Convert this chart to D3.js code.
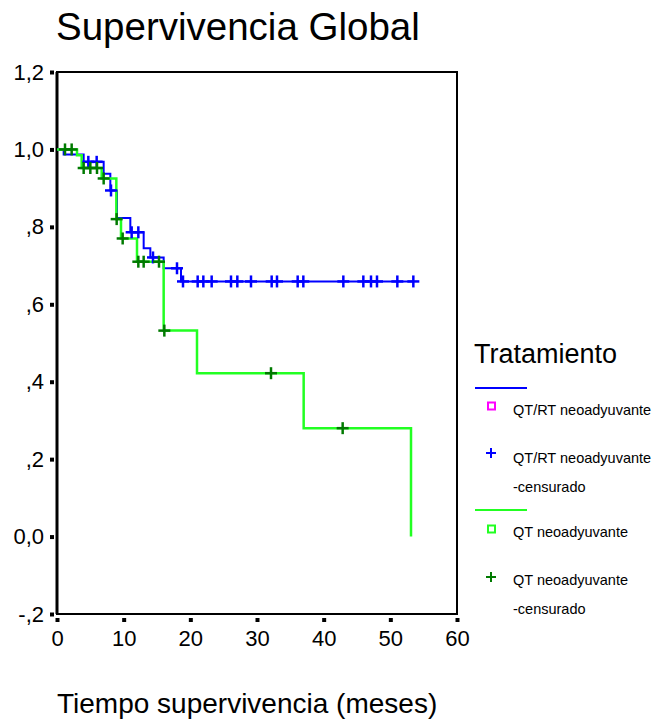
<!DOCTYPE html>
<html>
<head>
<meta charset="utf-8">
<script src="https://cdn.jsdelivr.net/npm/d3@7"></script>
<style>
  body { margin: 0; background: #fff; }
  text { font-family: "Liberation Sans", Arial, sans-serif; fill: #000; }
</style>
</head>
<body>
<svg id="chart" width="655" height="723"></svg>
<script>
// Kaplan-Meier steps
var qtrtTimes = [0, 1, 4, 7, 8, 9, 11, 13, 14, 16, 18.6, 53.5];
var qtrtSurv = [1, 0.987, 0.968, 0.937, 0.894, 0.823, 0.786, 0.745, 0.721, 0.693, 0.659, 0.659];
var qtrtCensored = [4.7, 5.95, 8.1, 11.2, 12.2, 14.4, 18.0, 18.9, 21.1, 21.95, 23.2, 26.1, 27.05,
  29.1, 32.2, 33.0, 36.1, 36.95, 42.95, 45.95, 47.1, 48.0, 51.05, 53.45];

var qtTimes = [0, 3, 3.7, 6.7, 8.9, 9.6, 12, 16, 21, 37, 53.1];
var qtSurv = [1, 0.985, 0.952, 0.925, 0.82, 0.77, 0.71, 0.532, 0.422, 0.28, 0];
var qtCensored = [1.2, 2.2, 4.0, 5.0, 6.0, 7.0, 8.95, 9.85, 12.2, 13.0, 15.3, 16.1, 32.1, 42.85];

var xTicks = [0, 10, 20, 30, 40, 50, 60];
var yTicks = [-0.2, 0, 0.2, 0.4, 0.6, 0.8, 1.0, 1.2];
var yTickLabels = ["-,2", "0,0", ",2", ",4", ",6", ",8", "1,0", "1,2"];

var legendTitle = "Tratamiento";
var legendItems = ["QT/RT neoadyuvante", "QT/RT neoadyuvante|-censurado", "QT neoadyuvante", "QT neoadyuvante|-censurado"];

var svg = d3.select("#chart");

var x = d3.scaleLinear().domain([0, 60]).range([57, 457]);
var y = d3.scaleLinear().domain([-0.2, 1.2]).range([614, 72]);

// title
svg.append("text").attr("x", 56).attr("y", 40)
  .style("font-size", "38.5px").text("Supervivencia Global");

// frame
svg.append("rect")
  .attr("x", x(0)).attr("y", y(1.2))
  .attr("width", x(60) - x(0)).attr("height", y(-0.2) - y(1.2))
  .attr("fill", "none").attr("stroke", "#000").attr("stroke-width", 2);
svg.append("line")
  .attr("x1", x(0)).attr("x2", x(0)).attr("y1", y(1.2)).attr("y2", y(-0.2))
  .attr("stroke", "#000").attr("stroke-width", 3);

// axes with square tick marks
var xAxis = d3.axisBottom(x).tickValues(xTicks).tickSize(4).tickPadding(8);
var gx = svg.append("g").attr("transform", "translate(0," + (y(-0.2) + 4) + ")").call(xAxis);
gx.select(".domain").remove();
gx.selectAll(".tick line").attr("stroke", "#000").attr("stroke-width", 4);
gx.selectAll(".tick text").style("font-size", "22px").attr("font-family", null);

var yAxis = d3.axisLeft(y).tickValues(yTicks).tickSize(4).tickPadding(6)
  .tickFormat(function(d, i) { return yTickLabels[i]; });
var gy = svg.append("g").attr("transform", "translate(" + (x(0) - 3) + ",0)").call(yAxis);
gy.select(".domain").remove();
gy.selectAll(".tick line").attr("stroke", "#000").attr("stroke-width", 4);
gy.selectAll(".tick text").style("font-size", "22px").attr("font-family", null);

// x axis title
svg.append("text").attr("x", 57).attr("y", 713)
  .style("font-size", "28px").text("Tiempo supervivencia (meses)");

function stepValue(times, surv, t) {
  var v = surv[0];
  for (var i = 0; i < times.length; i++) {
    if (times[i] <= t) v = surv[i];
  }
  return v;
}

var line = d3.line()
  .x(function(d) { return x(d[0]); })
  .y(function(d) { return y(d[1]); })
  .curve(d3.curveStepAfter);

var blue = "#0000ff", lime = "#22ff22", dark = "#007a00";

svg.append("path").datum(d3.zip(qtrtTimes, qtrtSurv))
  .attr("d", line).attr("fill", "none").attr("stroke", blue).attr("stroke-width", 2);
svg.append("path").datum(d3.zip(qtTimes, qtSurv))
  .attr("d", line).attr("fill", "none").attr("stroke", lime).attr("stroke-width", 2.5);

function drawCensors(times, surv, cens, color) {
  var g = svg.append("g").attr("stroke", color).attr("stroke-width", 2.5);
  cens.forEach(function(t) {
    var cx = x(t), cy = y(stepValue(times, surv, t));
    g.append("line").attr("x1", cx - 6).attr("x2", cx + 6).attr("y1", cy).attr("y2", cy);
    g.append("line").attr("x1", cx).attr("x2", cx).attr("y1", cy - 6).attr("y2", cy + 6);
  });
}
drawCensors(qtrtTimes, qtrtSurv, qtrtCensored, blue);
drawCensors(qtTimes, qtSurv, qtCensored, dark);

// legend
var lg = svg.append("g");
lg.append("text").attr("x", 474).attr("y", 363).style("font-size", "27px").text(legendTitle);

function legendLine(yy, color) {
  lg.append("line").attr("x1", 475).attr("x2", 527).attr("y1", yy).attr("y2", yy)
    .attr("stroke", color).attr("stroke-width", 2);
}
function legendSquare(yy, color) {
  lg.append("rect").attr("x", 488).attr("y", yy - 3.5).attr("width", 7).attr("height", 7)
    .attr("fill", "none").attr("stroke", color).attr("stroke-width", 2);
}
function legendPlus(yy, color) {
  lg.append("line").attr("x1", 486).attr("x2", 496).attr("y1", yy).attr("y2", yy)
    .attr("stroke", color).attr("stroke-width", 2);
  lg.append("line").attr("x1", 491).attr("x2", 491).attr("y1", yy - 5).attr("y2", yy + 5)
    .attr("stroke", color).attr("stroke-width", 2);
}
function legendText(yy, label) {
  var parts = label.split("|");
  parts.forEach(function(p, i) {
    lg.append("text").attr("x", 513).attr("y", yy + i * 28.5)
      .style("font-size", "14.5px").text(p);
  });
}

legendLine(388, blue);
legendSquare(406, "#ff00ff");
legendText(415, legendItems[0]);
legendPlus(453, blue);
legendText(463, legendItems[1]);
legendLine(510, lime);
legendSquare(529, lime);
legendText(537, legendItems[2]);
legendPlus(577, dark);
legendText(585, legendItems[3]);
</script>
</body>
</html>
